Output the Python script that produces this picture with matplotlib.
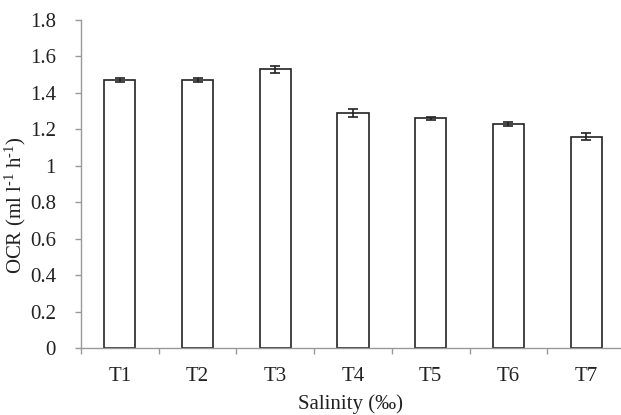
import matplotlib
matplotlib.use("Agg")
import matplotlib.pyplot as plt
from matplotlib.ticker import FixedLocator, FuncFormatter

categories = ["T1", "T2", "T3", "T4", "T5", "T6", "T7"]
ocr = [1.47, 1.47, 1.53, 1.29, 1.26, 1.23, 1.16]
err = [0.01, 0.01, 0.02, 0.02, 0.01, 0.01, 0.02]
yticks = [0, 0.2, 0.4, 0.6, 0.8, 1.0, 1.2, 1.4, 1.6, 1.8]

plt.rcParams['font.family'] = ['Liberation Serif', 'DejaVu Serif']
plt.rcParams['mathtext.fontset'] = 'custom'
plt.rcParams['mathtext.rm'] = 'Liberation Serif'
plt.rcParams['mathtext.it'] = 'Liberation Serif:italic'

fig = plt.figure(figsize=(6.21, 4.15), dpi=100)
W, H = 621, 415
ax = fig.add_axes([81 / W, (415 - 348) / H, (625 - 81) / W, (348 - 20) / H])

x = list(range(len(categories)))
ax.bar(x, ocr, width=0.4, color='white', edgecolor='#222222', linewidth=1.2,
       yerr=err, error_kw=dict(ecolor='#222222', elinewidth=1.2, capsize=3.5, capthick=1.2))

ax.set_xlim(-0.5, 6.5)
ax.set_ylim(0, 1.8)
ax.set_yticks(yticks)
ax.yaxis.set_major_formatter(FuncFormatter(lambda v, p: ('%g' % round(v, 1))))
ax.set_xticks(x)
ax.set_xticklabels(categories)
ax.xaxis.set_minor_locator(FixedLocator([i - 0.5 for i in range(len(categories) + 1)]))
ax.tick_params(axis='x', which='major', length=0, pad=14, labelsize=15, colors='#222222')
ax.tick_params(axis='x', which='minor', length=4, width=1, color='#999999', direction='out')
ax.tick_params(axis='y', length=4, width=1, color='#999999', direction='out', labelsize=15,
               labelcolor='#222222', pad=14)

for s in ['top', 'right']:
    ax.spines[s].set_visible(False)
for s in ['left', 'bottom']:
    ax.spines[s].set_color('#999999')
    ax.spines[s].set_linewidth(1)

fig.text(15 / W, 1 - 205 / H, r"OCR (ml l$^{\text{-}1}$ h$^{\text{-}1}$)", rotation=90, ha='center',
         va='center', fontsize=15, color='#222222')
fig.text(351 / W, 1 - 404 / H, "Salinity (‰)", ha='center', va='center', fontsize=15, color='#222222')

fig.savefig("out.png", dpi=100)
